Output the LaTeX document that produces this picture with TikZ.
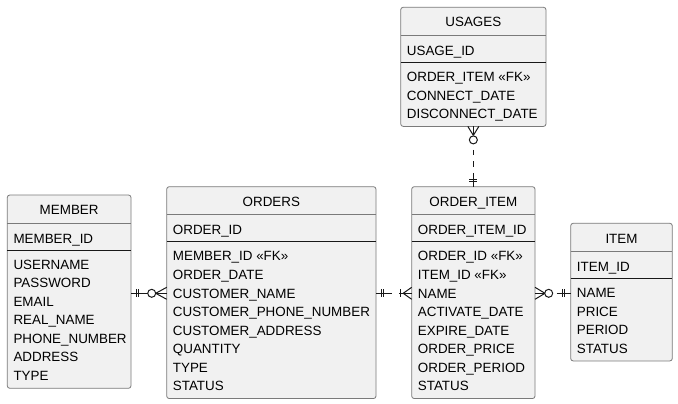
\documentclass[tikz,border=0pt]{standalone}
\usepackage{fontspec}
\setmainfont{Liberation Sans}
\usetikzlibrary{calc}
\definecolor{boxfill}{HTML}{F1F1F1}
\definecolor{boxline}{HTML}{7A7A7A}
\definecolor{ink}{HTML}{181818}
\tikzset{
  entbox/.style={draw=boxline, fill=boxfill, line width=0.8pt, rounded corners=2.5pt, inner sep=0pt, outer sep=0pt, anchor=north west},
  enttitle/.style={inner sep=0pt, text height=9.4pt, text depth=0pt, text=black, font=\fontsize{13.4pt}{16pt}\selectfont, anchor=center},
  entrow/.style={enttitle, anchor=west},
  hdrline/.style={draw=boxline, line width=0.8pt},
  pkline/.style={draw=ink, line width=1pt},
  rel/.style={draw=ink, line width=1pt},
  relmark/.style={draw=ink, line width=1pt},
  optmark/.style={draw=ink, line width=1pt, fill=white},
}
\newcommand\erEntity[8]{%
  \pgfmathsetmacro\erW{#3-#2}%
  \pgfmathsetmacro\erH{69.5+18.55*(#8-1)+12.5}%
  \pgfmathsetmacro\erCx{(#2+#3)/2}%
  \node[entbox, minimum width=\erW pt, minimum height=\erH pt] (#1) at (#2,#4) {};
  \draw[hdrline] (#2,#4+28) -- (#3,#4+28);
  \draw[pkline] (#2,#4+55) -- (#3,#4+55);
  \node[enttitle] (#1-t) at (\erCx,#4+15) {#5};
  \node[entrow] (#1-k) at (#2+6,#4+43.5) {#6};
  \foreach \a [count=\i] in {#7} {
    \node[entrow] (#1-a\i) at (#2+6,#4+69.5+18.55*\i-18.55) {\a};
  }
}
\begin{document}
\begin{tikzpicture}[x=1pt,y=-1pt]
\fill[white] (0,0) rectangle (678,404);
\useasboundingbox (0,0) rectangle (678,404);

\erEntity{member}{7.3}{131}{195}{MEMBER}{MEMBER\_ID}{USERNAME,PASSWORD,EMAIL,REAL\_NAME,PHONE\_NUMBER,ADDRESS,TYPE}{7}
\erEntity{orders}{166.7}{376}{186.7}{ORDERS}{ORDER\_ID}{MEMBER\_ID «FK»,ORDER\_DATE,CUSTOMER\_NAME,CUSTOMER\_PHONE\_NUMBER,CUSTOMER\_ADDRESS,QUANTITY,TYPE,STATUS}{8}
\erEntity{oi}{411.7}{535}{186.7}{ORDER\_ITEM}{ORDER\_ITEM\_ID}{ORDER\_ID «FK»,ITEM\_ID «FK»,NAME,ACTIVATE\_DATE,EXPIRE\_DATE,ORDER\_PRICE,ORDER\_PERIOD,STATUS}{8}
\erEntity{usages}{400.7}{546}{7.3}{USAGES}{USAGE\_ID}{ORDER\_ITEM «FK»,CONNECT\_DATE,DISCONNECT\_DATE}{3}
\erEntity{item}{570.7}{672.3}{223.3}{ITEM}{ITEM\_ID}{NAME,PRICE,PERIOD,STATUS}{4}

% MEMBER ||--o< ORDERS
\coordinate (c1a) at (member.east |- orders-a3);
\coordinate (c1b) at (orders.west |- orders-a3);
\draw[rel] (member.east |- orders-a3) -- (orders.west |- orders-a3);
\draw[relmark] ($(c1a)+(5,-4)$) -- ++(0,8) ($(c1a)+(7.5,-4)$) -- ++(0,8);
\draw[relmark] ($(c1b)+(-11,0)$) -- ($(c1b)+(0,-6)$) ($(c1b)+(-11,0)$) -- ($(c1b)+(0,6)$);
\draw[optmark] ($(c1b)+(-15,0)$) circle[radius=4pt];

% ORDERS ||..|< ORDER_ITEM
\coordinate (c2a) at (orders.east |- orders-a3);
\coordinate (c2b) at (oi.west |- orders-a3);
\draw[rel, dash pattern=on 15.7pt off 7.6pt on 20pt] (orders.east |- orders-a3) -- (oi.west |- orders-a3);
\draw[relmark] ($(c2a)+(5,-4)$) -- ++(0,8) ($(c2a)+(7.5,-4)$) -- ++(0,8);
\draw[relmark] ($(c2b)+(-11,-4)$) -- ++(0,8);
\draw[relmark] ($(c2b)+(-8.5,0)$) -- ($(c2b)+(0,-6)$) ($(c2b)+(-8.5,0)$) -- ($(c2b)+(0,6)$);

% ORDER_ITEM >o..|| ITEM
\coordinate (c3a) at (oi.east |- oi-a3);
\coordinate (c3b) at (item.west |- oi-a3);
\draw[rel, dash pattern=on 10pt off 11.5pt on 20pt] (oi.east |- oi-a3) -- (item.west |- oi-a3);
\draw[relmark] ($(c3a)+(10,0)$) -- ($(c3a)+(0,-6)$) ($(c3a)+(10,0)$) -- ($(c3a)+(0,6)$);
\draw[optmark] ($(c3a)+(13.7,0)$) circle[radius=4pt];
\draw[relmark] ($(c3b)+(-6,-4)$) -- ++(0,8) ($(c3b)+(-8.5,-4)$) -- ++(0,8);

% USAGES }o..|| ORDER_ITEM
\draw[rel, dash pattern=on 9pt off 14.5pt on 5.5pt off 6pt on 5.5pt off 6pt on 20pt] (usages.south) -- (oi.north);
\draw[relmark] ($(usages.south)+(0,9)$) -- ($(usages.south)+(-5.5,0)$) ($(usages.south)+(0,9)$) -- ($(usages.south)+(5.5,0)$);
\draw[optmark] ($(usages.south)+(0,13.5)$) circle[radius=4pt];
\draw[relmark] ($(oi.north)+(-4,-5)$) -- ++(8,0) ($(oi.north)+(-4,-7.5)$) -- ++(8,0);
\end{tikzpicture}
\end{document}
